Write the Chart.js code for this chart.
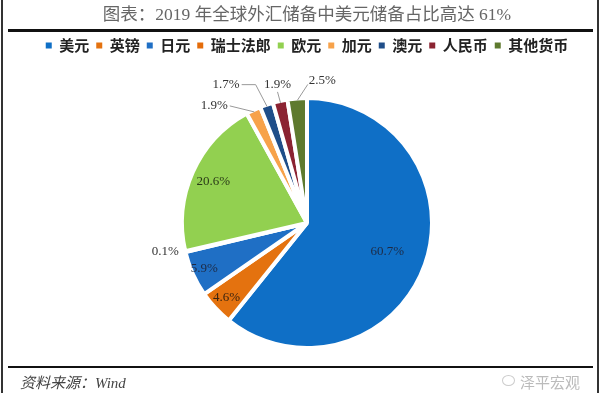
<!DOCTYPE html>
<html>
<head>
<meta charset="utf-8">
<script src="https://cdn.jsdelivr.net/npm/chart.js@4"></script>
<style>
  html, body { margin: 0; padding: 0; background: #fff; }
  #wrap { position: relative; width: 600px; height: 393px; overflow: hidden; }
  #chart { position: absolute; left: 0; top: 0; }
  .rule { position: absolute; background: #111; }
  .side { position: absolute; top: 0; width: 2px; height: 393px; background: #333; }
  #source { position: absolute; left: 20px; top: 371px; font: italic 15px "Liberation Serif", "Noto Sans CJK SC", serif; color: #444; }
  #mark { position: absolute; left: 520px; top: 371px; font: 15px "Noto Sans CJK SC", sans-serif; color: #bbb; }
  #icon { position: absolute; left: 502px; top: 375px; width: 11px; height: 9px; border: 1.5px solid #ccc; border-radius: 50%; }
</style>
</head>
<body>
<div id="wrap">
  <canvas id="chart" width="600" height="393"></canvas>
  <div class="side" style="left:1px"></div>
  <div class="side" style="left:597px"></div>
  <div class="rule" style="left:8px; top:29px; width:585px; height:3px"></div>
  <div class="rule" style="left:8px; top:366px; width:585px; height:2px"></div>
  <div id="source">资料来源：Wind</div>
  <div id="icon"></div>
  <div id="mark">泽平宏观</div>
</div>
<script>
const chartTitle = '图表：2019 年全球外汇储备中美元储备占比高达 61%';
const categories = ['美元', '英镑', '日元', '瑞士法郎', '欧元', '加元', '澳元', '人民币', '其他货币'];
const shares = [60.7, 4.6, 5.9, 0.1, 20.6, 1.9, 1.7, 1.9, 2.5];

const sliceColors = ['#0f6fc6', '#e4720f', '#1f6fc5', '#e46c0a', '#92d050', '#f7a24a', '#1f4e89', '#8b2332', '#5e7a2e'];

// where each percentage goes: inside = fraction of radius, otherwise offset from the arc's outer midpoint
const labelPlacement = [
    { inside: 0.68, color: '#1e2a44' },
    { inside: 0.88, color: '#3a2410' },
    { inside: 0.9, color: '#1e2a44' },
    { dx: -22, dy: 0 },
    { inside: 0.82, color: '#2a3a18' },
    { dx: -40, dy: -6, leader: 'right', run: 0 },
    { dx: -41, dy: -22, leader: 'right', run: 14 },
    { dx: -3, dy: -18, leader: 'bottom' },
    { dx: 25, dy: -20, leader: 'left' }
];

const sliceLabels = {
    id: 'sliceLabels',
    afterDatasetsDraw(chart) {
        const ctx = chart.ctx;
        const arcs = chart.getDatasetMeta(0).data;
        ctx.save();
        ctx.font = '13px "Liberation Serif", serif';
        ctx.textBaseline = 'middle';
        ctx.textAlign = 'center';
        arcs.forEach((arc, i) => {
            const p = arc.getProps(['x', 'y', 'startAngle', 'endAngle', 'outerRadius']);
            const mid = (p.startAngle + p.endAngle) / 2;
            const cos = Math.cos(mid), sin = Math.sin(mid);
            const txt = shares[i].toFixed(1) + '%';
            const pl = labelPlacement[i];
            if (pl.inside) {
                const r = p.outerRadius * pl.inside;
                ctx.fillStyle = pl.color;
                ctx.fillText(txt, p.x + cos * r, p.y + sin * r);
                return;
            }
            const ox = p.x + cos * (p.outerRadius - 2);
            const oy = p.y + sin * (p.outerRadius - 2);
            const lx = ox + pl.dx, ly = oy + pl.dy;
            const w = ctx.measureText(txt).width;
            if (pl.leader) {
                let ex = lx, ey = ly;
                if (pl.leader === 'right') ex = lx + w / 2 + 2;
                if (pl.leader === 'left') { ex = lx - w / 2 - 1; ey = ly + 4; }
                if (pl.leader === 'bottom') ey = ly + 7;
                ctx.strokeStyle = '#999';
                ctx.lineWidth = 1;
                ctx.beginPath();
                ctx.moveTo(ex, ey);
                if (pl.run) ctx.lineTo(ex + pl.run, ey);
                ctx.lineTo(ox, oy);
                ctx.stroke();
            }
            ctx.fillStyle = '#333';
            ctx.fillText(txt, lx, ly);
        });
        ctx.restore();
    }
};

new Chart(document.getElementById('chart'), {
    type: 'pie',
    data: {
        labels: categories,
        datasets: [{
            data: shares,
            backgroundColor: sliceColors,
            borderColor: '#fff',
            borderWidth: 4,
            radius: 125,
            hoverOffset: 0
        }]
    },
    options: {
        responsive: false,
        animation: false,
        layout: { padding: { left: 14, right: 0, top: 0, bottom: 10 } },
        plugins: {
            title: {
                display: true,
                text: chartTitle,
                color: '#666',
                font: { family: '"Liberation Serif", "Noto Sans CJK SC", serif', size: 17.5, weight: 'normal' },
                padding: { top: 5, bottom: 5 }
            },
            legend: {
                position: 'top',
                labels: {
                    color: '#222',
                    font: { family: '"Noto Sans CJK SC", sans-serif', size: 15, weight: 'bold' },
                    usePointStyle: true,
                    pointStyle: 'rect',
                    boxWidth: 6,
                    boxHeight: 6,
                    padding: 7,
                    generateLabels(chart) {
                        const items = Chart.overrides.pie.plugins.legend.labels.generateLabels(chart);
                        return items.map(it => ({ ...it, lineWidth: 0, strokeStyle: it.fillStyle }));
                    }
                }
            },
            tooltip: { enabled: false }
        }
    },
    plugins: [sliceLabels]
});
</script>
</body>
</html>
